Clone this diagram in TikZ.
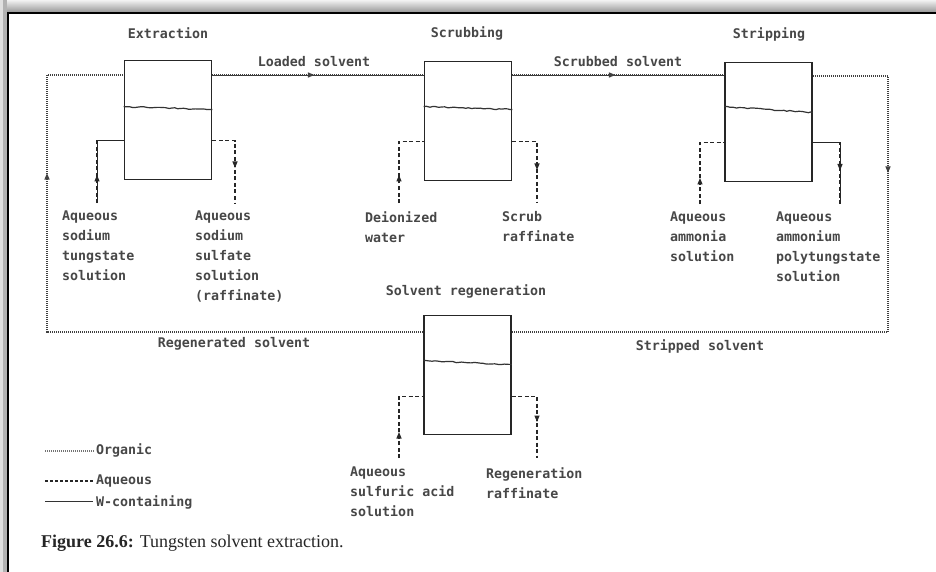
\documentclass[tikz,border=0pt]{standalone}
\usepackage{fontspec}
\setmainfont{Liberation Serif}
\newfontfamily\labfont{DejaVu Sans Mono}
\usetikzlibrary{arrows.meta,decorations.markings,decorations.pathmorphing,calc}
\tikzset{
  lab/.style={font=\labfont\bfseries\fontsize{13.3}{20}\selectfont, text=black!72, inner sep=0pt},
  blk/.style={lab, anchor=north west, align=left},
  vessel/.style={draw=black!85, line width=1.8pt, minimum width=87pt, minimum height=119pt, inner sep=0pt},
  iface/.style={draw=black!80, line width=1.2pt, decorate, decoration={random steps, segment length=3pt, amplitude=0.6pt}},
  org/.style={draw=black!75, line width=1.4pt, dash pattern=on 1pt off 1pt},
  worg/.style={org, preaction={draw=black!80, solid, line width=0.8pt}},
  aq/.style={draw=black!85, line width=1.2pt, dash pattern=on 4pt off 2.5pt},
  waq/.style={aq, preaction={draw=black!85, solid, line width=0.8pt}},
  wl/.style={draw=black!80, line width=1pt},
  flow/.style={postaction={decorate, decoration={markings, mark=at position #1 with {\arrow{Triangle[length=6.5pt,width=5pt]}}}}}
}
\begin{document}
\begin{tikzpicture}[x=1pt,y=-1pt]
\useasboundingbox (0,0) rectangle (936,572);
\fill[white] (0,0) rectangle (936,572);
% frame
\shade[top color=black!5, bottom color=black!40] (0,0) rectangle (936,12);
\fill[black!30] (0,0) rectangle (7,572);
\fill[black!12] (0,0) rectangle (3,572);
\draw[line width=2pt] (8,572) -- (8,13) -- (936,13);

% vessels
\node[vessel] (ext) at (168,120) {};
\node[vessel] (scr) at (468,121) {};
\node[vessel] (str) at (768.5,122) {};
\node[vessel] (reg) at (467.5,375) {};

\draw[iface] ([yshift=-47pt]ext.north west) -- ([yshift=-50pt]ext.north east);
\draw[iface] ([yshift=-46pt]scr.north west) -- ([yshift=-49pt]scr.north east);
\draw[iface] ([yshift=-45pt]str.north west) -- ([yshift=-51pt]str.north east);
\draw[iface] ([yshift=-46pt]reg.north west) -- ([yshift=-50pt]reg.north east);

% titles
\node[lab] (t1) at (168,33) {Extraction};
\node[lab] (t2) at (467,33) {Scrubbing};
\node[lab] (t3) at (769,34) {Stripping};
\node[lab] (t4) at (466,291) {Solvent regeneration};

% organic circuit
\coordinate (TL) at (47,75);
\coordinate (TR) at (888,76);
\coordinate (BL) at (47,332);
\coordinate (BR) at (888,332);
\draw[org, flow=535pt] (reg.west |- BL) -- (BL) -- (TL) -- (ext.west |- TL);
\draw[worg, flow=102pt] (ext.east |- TL) -- (scr.west |- TL);
\draw[worg, flow=103pt] (scr.east |- TL) -- (str.west |- TL);
\draw[org, flow=172pt] (str.east |- TR) -- (TR) -- (BR) -- (reg.east |- BR);

\node[lab] (l1) at (314,62) {Loaded solvent};
\node[lab] (l2) at (618,62) {Scrubbed solvent};
\node[lab] (l3) at (234,344) {Regenerated solvent};
\node[lab] (l4) at (700,346) {Stripped solvent};

% aqueous streams
\coordinate (pe1) at ([yshift=-81pt]ext.north west);
\coordinate (pe2) at ([yshift=-81pt]ext.north east);
\coordinate (ps1) at ([yshift=-81pt]scr.north west);
\coordinate (ps2) at ([yshift=-81pt]scr.north east);
\coordinate (pt1) at ([yshift=-81pt]str.north west);
\coordinate (pt2) at ([yshift=-81pt]str.north east);
\coordinate (pr1) at ([yshift=-81.5pt]reg.north west);
\coordinate (pr2) at ([yshift=-81.5pt]reg.north east);

\coordinate (a1) at (97,203);
\coordinate (a2) at (235,203);
\coordinate (a3) at (399,203);
\coordinate (a4) at (537,203);
\coordinate (a5) at (700,204);
\coordinate (a6) at (840,204);
\coordinate (a7) at (399,458);
\coordinate (a8) at (537,458);

\draw[waq, flow=28pt] (a1) -- (a1 |- pe1) -- (pe1);
\draw[aq, flow=50pt] (pe2) -- (a2 |- pe2) -- (a2);
\draw[aq, flow=28pt] (a3) -- (a3 |- ps1) -- (ps1);
\draw[aq, flow=53pt] (ps2) -- (a4 |- ps2) -- (a4);
\draw[aq, flow=26pt] (a5) -- (a5 |- pt1) -- (pt1);
\draw[waq, flow=55pt] (pt2) -- (a6 |- pt2) -- (a6);
\draw[aq, flow=26pt] (a7) -- (a7 |- pr1) -- (pr1);
\draw[aq, flow=51pt] (pr2) -- (a8 |- pr2) -- (a8);

% stream labels
\node[blk] (s1) at (62,211) {Aqueous\\sodium\\tungstate\\solution};
\node[blk] (s2) at (195,211) {Aqueous\\sodium\\sulfate\\solution\\(raffinate)};
\node[blk] (s3) at (365,211) {Deionized\\water};
\node[blk] (s4) at (502,211) {Scrub\\raffinate};
\node[blk] (s5) at (670,212) {Aqueous\\ammonia\\solution};
\node[blk] (s6) at (776,212) {Aqueous\\ammonium\\polytungstate\\solution};
\node[blk] (s7) at (350,467) {Aqueous\\sulfuric acid\\solution};
\node[blk] (s8) at (486,467) {Regeneration\\raffinate};

% legend
\node[lab, anchor=west] (g1) at (96,450) {Organic};
\node[lab, anchor=west] (g2) at (96,481) {Aqueous};
\node[lab, anchor=west] (g3) at (96,502) {W-containing};
\coordinate (h1) at (45,451);
\coordinate (h2) at (45,481);
\coordinate (h3) at (45,501);
\draw[org, draw=black!55] (h1) -- ([xshift=-2pt]g1.west |- h1);
\draw[aq, dash pattern=on 3pt off 2pt] (h2) -- ([xshift=-3pt]g2.west |- h2);
\draw[wl] (h3) -- ([xshift=-3pt]g3.west |- h3);

% caption
\node[anchor=west, inner sep=0pt, font=\fontsize{18}{20}\selectfont, text=black!85] (cap) at (41,543) {\textbf{Figure 26.6:} Tungsten solvent extraction.};
\end{tikzpicture}
\end{document}
